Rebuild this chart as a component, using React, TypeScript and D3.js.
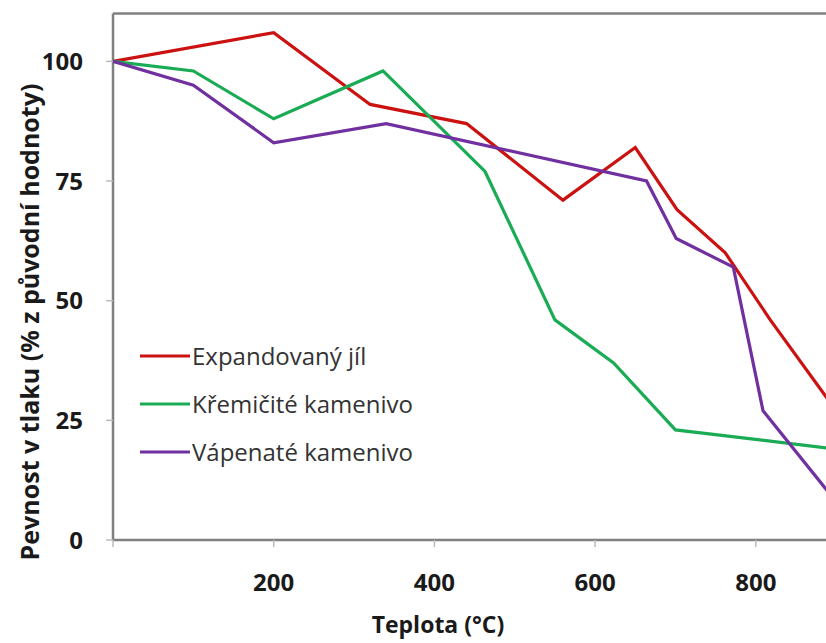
import React from "react";
import * as d3 from "d3";

const seriesNames = ["Expandovaný jíl", "Křemičité kamenivo", "Vápenaté kamenivo"];
const seriesColors = ["#cc1111", "#1aab55", "#7030a0"];

const redTemps = [0, 200, 320, 440, 560, 650, 702, 762, 818, 900];
const redValues = [100, 106, 91, 87, 71, 82, 69, 60, 46, 27];

const greenTemps = [0, 100, 200, 336, 463, 550, 623, 700, 900];
const greenValues = [100, 98, 88, 98, 77, 46, 37, 23, 19];

const purpleTemps = [0, 100, 200, 340, 664, 701, 772, 809, 900];
const purpleValues = [100, 95, 83, 87, 75, 63, 57, 27, 8];

const xTicks = [0, 200, 400, 600, 800];
const yTicks = [0, 25, 50, 75, 100];

const W = 826;
const H = 643;
const left = 113;
const top = 13.5;
const bottom = 540;

export default function App() {
  const x = d3.scaleLinear().domain([0, 900]).range([left, left + 900 * 0.8035]);
  const y = d3.scaleLinear().domain([0, 110]).range([bottom, top]);
  const line = d3
    .line<[number, number]>()
    .x((d) => x(d[0]))
    .y((d) => y(d[1]));

  const series = [
    { temps: redTemps, values: redValues },
    { temps: greenTemps, values: greenValues },
    { temps: purpleTemps, values: purpleValues },
  ];

  const font = "'Open Sans', 'DejaVu Sans', sans-serif";
  const axisColor = "#808080";

  return (
    <div style={{ position: "absolute", left: 0, top: 0 }}>
      <svg width={W} height={H} style={{ display: "block", background: "#fff" }}>
        <defs>
          <clipPath id="plot">
            <rect x={left} y={top - 2} width={W - left} height={bottom - top + 4} />
          </clipPath>
        </defs>
        {/* frame */}
        <line x1={left} x2={W} y1={top} y2={top} stroke={axisColor} strokeWidth={2.5} />
        <line x1={left} x2={left} y1={top} y2={bottom} stroke={axisColor} strokeWidth={2.5} />
        <line x1={left} x2={W} y1={bottom} y2={bottom} stroke={axisColor} strokeWidth={2.5} />
        {/* y ticks */}
        {yTicks.map((t) => (
          <g key={"y" + t}>
            <line x1={left - 7} x2={left} y1={y(t)} y2={y(t)} stroke="#bbb" strokeWidth={1.5} />
            <text
              x={83}
              y={y(t)}
              dy="0.36em"
              textAnchor="end"
              fontFamily={font}
              fontWeight={700}
              fontSize={24}
              fill="#1a1a1a"
            >
              {t}
            </text>
          </g>
        ))}
        {/* x ticks */}
        {xTicks.map((t) => (
          <g key={"x" + t}>
            <line x1={x(t)} x2={x(t)} y1={bottom} y2={bottom + 7} stroke="#bbb" strokeWidth={1.5} />
            {t > 0 && (
              <text
                x={x(t)}
                y={591}
                textAnchor="middle"
                fontFamily={font}
                fontWeight={700}
                fontSize={24}
                fill="#1a1a1a"
              >
                {t}
              </text>
            )}
          </g>
        ))}
        {/* lines */}
        <g clipPath="url(#plot)">
          {series.map((s, i) => (
            <path
              key={i}
              d={line(s.temps.map((t, j) => [t, s.values[j]] as [number, number])) || ""}
              fill="none"
              stroke={seriesColors[i]}
              strokeWidth={3.2}
              strokeLinejoin="miter"
            />
          ))}
        </g>
        {/* legend */}
        {seriesNames.map((n, i) => (
          <g key={n}>
            <line
              x1={140}
              x2={190}
              y1={356 + i * 48}
              y2={356 + i * 48}
              stroke={seriesColors[i]}
              strokeWidth={3.2}
            />
            <text
              x={192}
              y={356 + i * 48}
              dy="0.36em"
              fontFamily={font}
              fontSize={24}
              fill="#333"
            >
              {n}
            </text>
          </g>
        ))}
        {/* axis titles */}
        <text
          x={438}
          y={633}
          textAnchor="middle"
          fontFamily={font}
          fontWeight={700}
          fontSize={23}
          fill="#1a1a1a"
        >
          Teplota (°C)
        </text>
        <text
          transform={`translate(39, 322) rotate(-90)`}
          textAnchor="middle"
          fontFamily={font}
          fontWeight={700}
          fontSize={25}
          fill="#1a1a1a"
        >
          Pevnost v tlaku (% z původní hodnoty)
        </text>
      </svg>
    </div>
  );
}
